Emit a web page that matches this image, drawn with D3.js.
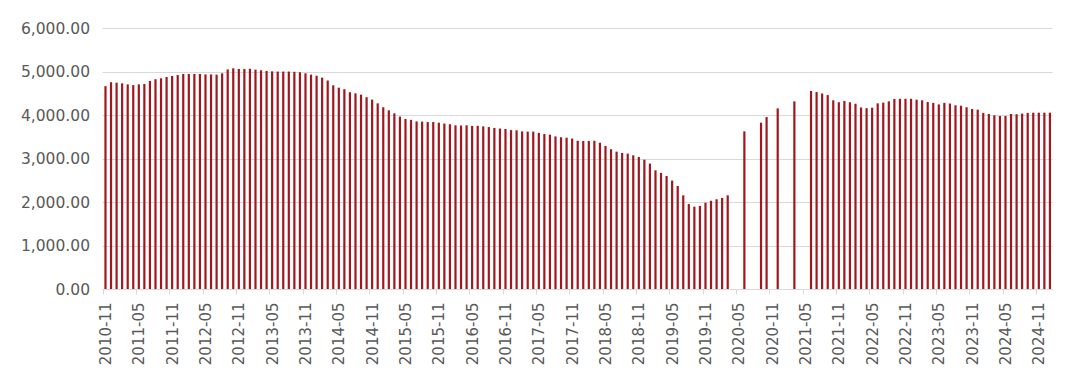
<!DOCTYPE html>
<html>
<head>
<meta charset="utf-8">
<script src="https://cdn.jsdelivr.net/npm/d3@7"></script>
<style>
  body { margin: 0; background: #fff; }
  svg { display: block; }
  text { font-family: "DejaVu Sans", "Noto Sans", sans-serif; fill: #595959; }
</style>
</head>
<body>
<div id="chart"></div>
<script>
// monthly categories, 2010-11 .. 2025-01
const firstMonth = "2010-11";
const lastMonth = "2025-01";

// values (null = no bar)
const values = [
  4670, 4760, 4750, 4735, 4710, 4695, 4710, 4720, 4790, 4830,
  4850, 4880, 4905, 4925, 4950, 4950, 4950, 4950, 4940, 4940,
  4935, 4965, 5055, 5080, 5065, 5065, 5070, 5050, 5035, 5020,
  5010, 5005, 5005, 5005, 5000, 4990, 4965, 4935, 4910, 4865,
  4800, 4690, 4635, 4600, 4530, 4505, 4475, 4415, 4360, 4275,
  4185, 4115, 4045, 3970, 3915, 3895, 3860, 3855, 3845, 3845,
  3830, 3810, 3795, 3770, 3765, 3770, 3755, 3758, 3745, 3730,
  3710, 3695, 3685, 3660, 3655, 3630, 3625, 3625, 3595, 3570,
  3555, 3515, 3495, 3485, 3465, 3415, 3410, 3410, 3415, 3370,
  3295, 3220, 3165, 3135, 3120, 3080, 3040, 2980, 2890, 2735,
  2675, 2605, 2500, 2375, 2160, 1960, 1900, 1915, 1990, 2035,
  2070, 2100, 2160, null, null, 3630, null, null, 3830, 3960,
  null, 4160, null, null, 4320, null, null, 4560, 4535, 4500,
  4465, 4345, 4300, 4330, 4300, 4265, 4180, 4165, 4175, 4275,
  4290, 4320, 4375, 4380, 4380, 4380, 4360, 4345, 4305, 4285,
  4250, 4285, 4270, 4230, 4220, 4185, 4145, 4130, 4055, 4030,
  4000, 3985, 3985, 4030, 4025, 4040, 4055, 4060, 4060, 4060,
  4060
];

const yTicks = [0, 1000, 2000, 3000, 4000, 5000, 6000];
const tickEvery = 6;

const width = 1080, height = 392;
const margin = { top: 28.3, right: 27.3, bottom: 102.7, left: 102.7 };

const parseMonth = d3.utcParse("%Y-%m");
const fmtMonth = d3.utcFormat("%Y-%m");
const categories = d3.utcMonth
  .range(parseMonth(firstMonth), d3.utcMonth.offset(parseMonth(lastMonth), 1))
  .map(fmtMonth);

const svg = d3.select("#chart").append("svg")
  .attr("width", width)
  .attr("height", height);

const x = d3.scaleBand()
  .domain(categories)
  .range([margin.left, width - margin.right])
  .padding(0);

const y = d3.scaleLinear()
  .domain([0, 6000])
  .range([height - margin.bottom, margin.top]);

// gridlines
svg.append("g")
  .selectAll("line")
  .data(yTicks.filter(d => d > 0))
  .join("line")
  .attr("x1", margin.left)
  .attr("x2", width - margin.right)
  .attr("y1", d => Math.round(y(d)) + 0.5)
  .attr("y2", d => Math.round(y(d)) + 0.5)
  .attr("stroke", "#d9d9d9")
  .attr("stroke-width", 1);

// y labels
svg.append("g")
  .selectAll("text")
  .data(yTicks)
  .join("text")
  .attr("x", 90)
  .attr("y", d => y(d))
  .attr("dy", "0.36em")
  .attr("text-anchor", "end")
  .style("font-size", "15.5px")
  .text(d => d3.format(",.2f")(d));

// bars
const barW = 2.2;
svg.append("g")
  .selectAll("rect")
  .data(categories.map((c, i) => ({ c, v: values[i] })).filter(d => d.v != null))
  .join("rect")
  .attr("x", d => x(d.c) + x.bandwidth() / 2 - barW / 2)
  .attr("y", d => y(d.v))
  .attr("width", barW)
  .attr("height", d => y(0) - y(d.v))
  .attr("fill", "#a0181d");

// x axis line + ticks
const axisY = Math.round(y(0)) + 0.5;
svg.append("line")
  .attr("x1", margin.left)
  .attr("x2", width - margin.right)
  .attr("y1", axisY)
  .attr("y2", axisY)
  .attr("stroke", "#d9d9d9");

const tickCats = categories.filter((c, i) => i % tickEvery === 0);
svg.append("g")
  .selectAll("line")
  .data(tickCats)
  .join("line")
  .attr("x1", d => Math.round(x(d)) + 0.5)
  .attr("x2", d => Math.round(x(d)) + 0.5)
  .attr("y1", axisY)
  .attr("y2", axisY + 5)
  .attr("stroke", "#d9d9d9");

svg.append("g")
  .selectAll("text")
  .data(tickCats)
  .join("text")
  .attr("transform", d => `translate(${x(d) + x.bandwidth() / 2},${axisY + 13}) rotate(-90)`)
  .attr("dy", "0.36em")
  .attr("text-anchor", "end")
  .style("font-size", "15px")
  .text(d => d);
</script>
</body>
</html>
